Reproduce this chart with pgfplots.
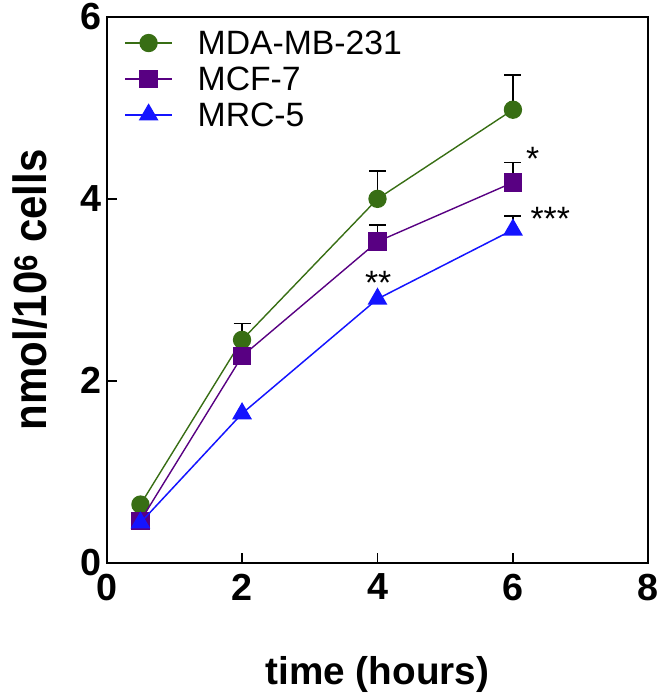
\documentclass[border=0pt]{standalone}
\usepackage{pgfplots}
\pgfplotsset{compat=1.18}
\usepackage{fontspec}
\setmainfont{Liberation Sans}
\definecolor{cgreen}{RGB}{56,110,20}
\definecolor{cpurple}{RGB}{88,0,130}
\definecolor{cblue}{RGB}{20,20,255}
\begin{document}
\begin{tikzpicture}
\begin{axis}[
  scale only axis, width=544bp, height=548bp,
  xmin=0, xmax=8, ymin=0, ymax=6,
  xtick={0,2,4,6,8}, ytick={0,2,4,6},
  xtick pos=bottom, ytick pos=left,
  x tick style={line width=1.5bp, black}, y tick style={line width=1.5bp, black},
  tick align=inside,
  major tick length=10bp,
  axis line style={line width=2bp, black},
  clip mode=individual,
  /pgf/number format/assume math mode=true,
  tick label style={font=\fontsize{38}{40}\selectfont\bfseries},
  xticklabel style={inner ysep=11bp},
  yticklabel style={inner xsep=5bp},
  xlabel={time (hours)}, ylabel={nmol/10\textsuperscript{6} cells},
  xlabel style={font=\fontsize{39}{41}\selectfont\bfseries, at={(axis description cs:0.5,-0.205)}, anchor=center},
  ylabel style={font=\fontsize{47}{49}\selectfont\bfseries, at={(axis description cs:-0.1406,0.5)}, anchor=center, xscale=0.9},
  legend style={draw=none, fill=none, at={(axis description cs:0.033,0.985)}, anchor=north west,
    inner sep=0pt, outer sep=0pt,
    font=\fontsize{34}{36}\selectfont, row sep=0bp, column sep=0bp,
    nodes={inner xsep=0bp, inner ysep=6bp, text height=24bp, text depth=0bp}},
  legend cell align=left,
  legend image code/.code={\draw[mark repeat=2,mark phase=2] plot coordinates {(0bp,0bp)(23.5bp,0bp)(47bp,0bp)}; \path (72bp,0bp);},
]
% error bars (upper only), drawn beneath the markers
\addplot[draw=none, forget plot, error bars/.cd, y dir=plus, y explicit,
  error bar style={black, line width=1.8bp},
  error mark options={rotate=90, mark size=8.5bp, line width=1.8bp, black}]
  coordinates {(2,2.45) +- (0,0.18) (4,4.00) +- (0,0.31) (6,4.98) +- (0,0.38)};
\addplot[draw=none, forget plot, error bars/.cd, y dir=plus, y explicit,
  error bar style={black, line width=1.8bp},
  error mark options={rotate=90, mark size=8.5bp, line width=1.8bp, black}]
  coordinates {(2,2.27) +- (0,0.09) (4,3.53) +- (0,0.18) (6,4.18) +- (0,0.22)};
\addplot[draw=none, forget plot, error bars/.cd, y dir=plus, y explicit,
  error bar style={black, line width=1.8bp},
  error mark options={rotate=90, mark size=8.5bp, line width=1.8bp, black}]
  coordinates {(6,3.66) +- (0,0.15)};
% series
\addplot[cgreen, line width=1.4bp, mark=*, mark size=8.5bp, mark options={fill=cgreen, draw=cgreen}]
  coordinates {(0.5,0.64) (2,2.45) (4,4.00) (6,4.98)};
\addlegendentry{MDA-MB-231}
\addplot[cpurple, line width=1.4bp, mark=square*, mark size=8.5bp, mark options={fill=cpurple, draw=cpurple}]
  coordinates {(0.5,0.46) (2,2.27) (4,3.53) (6,4.18)};
\addlegendentry{MCF-7}
\addplot[cblue, line width=1.5bp, mark=triangle*, mark size=10bp, mark options={fill=cblue, draw=cblue}]
  coordinates {(0.5,0.44) (2,1.64) (4,2.90) (6,3.66)};
\addlegendentry{MRC-5}
\node[font=\fontsize{34}{36}\selectfont] at (axis cs:4.01,3.08) {**};
\node[font=\fontsize{34}{36}\selectfont] at (axis cs:6.29,4.44) {*};
\node[font=\fontsize{34}{36}\selectfont] at (axis cs:6.55,3.78) {***};
\end{axis}
\draw[line width=2bp, black] (current axis.south west) -- (current axis.north west) -- (current axis.north east) -- (current axis.south east);
\path (current axis.south west) -- ++(-107bp,-131bp);
\path (current axis.north east) -- ++(13bp,17bp);
\end{tikzpicture}
\end{document}
